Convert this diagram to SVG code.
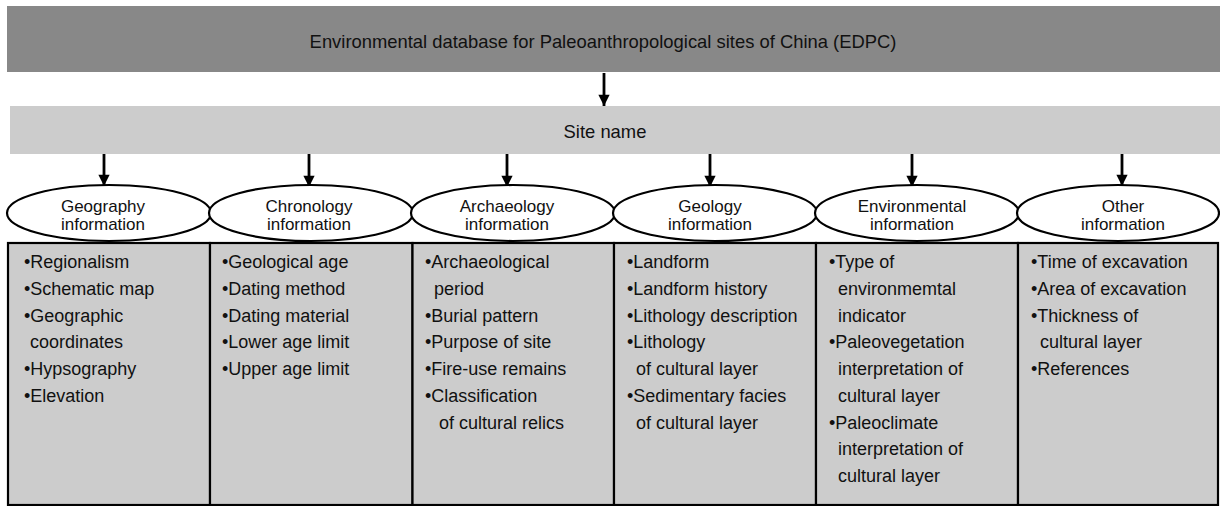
<svg xmlns="http://www.w3.org/2000/svg" width="1220" height="506" viewBox="0 0 1220 506">
<style>
text{font-family:"Liberation Sans",Arial,sans-serif;fill:#111;}
.t{font-size:18.4px;text-anchor:middle;}
.e{font-size:17px;text-anchor:middle;}
.b{font-size:18px;}
.ell{fill:#fff;stroke:#000;stroke-width:2.2;}
.box{fill:#cccccc;stroke:#000;stroke-width:2.2;}
.c{stroke:#000;stroke-width:2.8;fill:none;}
</style>
<defs>
<marker id="ah" viewBox="0 0 10 10" refX="10" refY="5" markerWidth="4.4" markerHeight="4" markerUnits="strokeWidth" orient="auto">
<path d="M0,0 L10,5 L0,10 z" fill="#000"/>
</marker>
</defs>
<rect width="1220" height="506" fill="#fff"/>
<g id="edpc">
<rect x="7" y="6" width="1213" height="66" fill="#888888"/>
<text class="t" x="603" y="48">Environmental database for Paleoanthropological sites of China (EDPC)</text>
</g>
<g id="site">
<rect x="10" y="106" width="1210" height="48" fill="#cccccc"/>
<text class="t" x="605" y="138">Site name</text>
</g>
<g id="connectors">
<line class="c" x1="604" y1="73" x2="604" y2="106" marker-end="url(#ah)"/>
<line class="c" x1="104" y1="154" x2="104" y2="186" marker-end="url(#ah)"/>
<line class="c" x1="309" y1="154" x2="309" y2="187" marker-end="url(#ah)"/>
<line class="c" x1="507" y1="154" x2="507" y2="187" marker-end="url(#ah)"/>
<line class="c" x1="710" y1="154" x2="710" y2="187" marker-end="url(#ah)"/>
<line class="c" x1="912" y1="154" x2="912" y2="187" marker-end="url(#ah)"/>
<line class="c" x1="1122" y1="154" x2="1122" y2="186" marker-end="url(#ah)"/>
</g>
<g id="geography">
<ellipse class="ell" cx="109" cy="213" rx="102" ry="28"/>
<text class="e" x="103" y="212">Geography</text>
<text class="e" x="103" y="230">information</text>
<rect class="box" x="8" y="243" width="202" height="262"/>
<text class="b" x="24" y="268">•Regionalism</text>
<text class="b" x="24" y="295">•Schematic map</text>
<text class="b" x="24" y="322">•Geographic</text>
<text class="b" x="30" y="348">coordinates</text>
<text class="b" x="24" y="375">•Hypsography</text>
<text class="b" x="24" y="402">•Elevation</text>
</g>
<g id="chronology">
<ellipse class="ell" cx="311" cy="213" rx="102" ry="28"/>
<text class="e" x="309" y="212">Chronology</text>
<text class="e" x="309" y="230">information</text>
<rect class="box" x="210" y="243" width="202.5" height="262"/>
<text class="b" x="222" y="268">•Geological age</text>
<text class="b" x="222" y="295">•Dating method</text>
<text class="b" x="222" y="322">•Dating material</text>
<text class="b" x="222" y="348">•Lower age limit</text>
<text class="b" x="222" y="375">•Upper age limit</text>
</g>
<g id="archaeology">
<ellipse class="ell" cx="513" cy="213" rx="102" ry="28"/>
<text class="e" x="507" y="212">Archaeology</text>
<text class="e" x="507" y="230">information</text>
<rect class="box" x="412.5" y="243" width="201.5" height="262"/>
<text class="b" x="425" y="268">•Archaeological</text>
<text class="b" x="434" y="295">period</text>
<text class="b" x="425" y="322">•Burial pattern</text>
<text class="b" x="425" y="348">•Purpose of site</text>
<text class="b" x="425" y="375">•Fire-use remains</text>
<text class="b" x="425" y="402">•Classification</text>
<text class="b" x="439" y="429">of cultural relics</text>
</g>
<g id="geology">
<ellipse class="ell" cx="715" cy="213" rx="102" ry="28"/>
<text class="e" x="710" y="212">Geology</text>
<text class="e" x="710" y="230">information</text>
<rect class="box" x="614" y="243" width="202" height="262"/>
<text class="b" x="627" y="268">•Landform</text>
<text class="b" x="627" y="295">•Landform history</text>
<text class="b" x="627" y="322">•Lithology description</text>
<text class="b" x="627" y="348">•Lithology</text>
<text class="b" x="636" y="375">of cultural layer</text>
<text class="b" x="627" y="402">•Sedimentary facies</text>
<text class="b" x="636" y="429">of cultural layer</text>
</g>
<g id="environmental">
<ellipse class="ell" cx="917" cy="213" rx="102" ry="28"/>
<text class="e" x="912" y="212">Environmental</text>
<text class="e" x="912" y="230">information</text>
<rect class="box" x="816" y="243" width="202" height="262"/>
<text class="b" x="829" y="268">•Type of</text>
<text class="b" x="838" y="295">environmemtal</text>
<text class="b" x="838" y="322">indicator</text>
<text class="b" x="829" y="348">•Paleovegetation</text>
<text class="b" x="838" y="375">interpretation of</text>
<text class="b" x="838" y="402">cultural layer</text>
<text class="b" x="829" y="429">•Paleoclimate</text>
<text class="b" x="838" y="455">interpretation of</text>
<text class="b" x="838" y="482">cultural layer</text>
</g>
<g id="other">
<ellipse class="ell" cx="1118" cy="213" rx="101" ry="28"/>
<text class="e" x="1123" y="212">Other</text>
<text class="e" x="1123" y="230">information</text>
<rect class="box" x="1018" y="243" width="200" height="262"/>
<text class="b" x="1031" y="268">•Time of excavation</text>
<text class="b" x="1031" y="295">•Area of excavation</text>
<text class="b" x="1031" y="322">•Thickness of</text>
<text class="b" x="1040" y="348">cultural layer</text>
<text class="b" x="1031" y="375">•References</text>
</g>
</svg>
